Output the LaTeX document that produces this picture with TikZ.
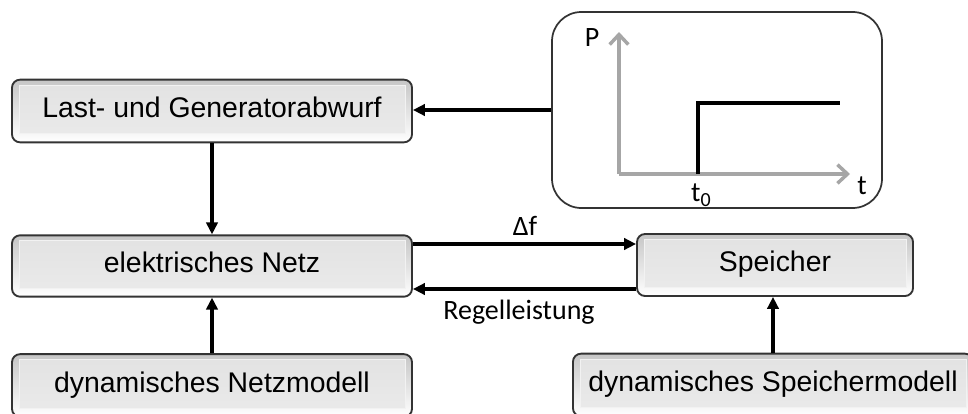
\documentclass[tikz,border=0pt]{standalone}
\usepackage{fontspec}
\setmainfont{Liberation Sans}
\newfontfamily\labfont{Carlito}
\usetikzlibrary{arrows.meta,calc}

\definecolor{btnedge}{HTML}{333333}
\definecolor{btnface}{HTML}{E2E2E2}
\definecolor{btntop}{HTML}{C6C6C6}
\definecolor{axisgray}{HTML}{A6A6A6}

\tikzset{
  btn/.style={draw=btnedge, line width=1.4pt, rounded corners=6pt,
    minimum width=300pt, minimum height=47pt, inner sep=0pt,
    text height=15pt, text depth=5pt,
    top color=btntop, bottom color=white,
    font=\fontsize{21.3}{25}\selectfont,
    path picture={
      \fill[sharp corners, top color=btnface, bottom color=btnface!70!white]
        ([xshift=5.5pt,yshift=-4pt]path picture bounding box.north west)
        rectangle ([xshift=-5pt,yshift=6.5pt]path picture bounding box.south east);
      \draw[white!55!btnface, line width=0.6pt, sharp corners]
        ([xshift=5.5pt,yshift=-4pt]path picture bounding box.north west)
        rectangle ([xshift=-5pt,yshift=6.5pt]path picture bounding box.south east);
    }},
  plotframe/.style={draw=btnedge, line width=1.3pt, rounded corners=22pt,
    minimum width=247.5pt, minimum height=147pt, inner sep=0pt},
  flow/.style={line width=2.5pt, -{Triangle[length=9pt,width=8.5pt]}},
  axis/.style={draw=axisgray, line width=2.6pt,
    -{Straight Barb[length=7.5pt,width=14pt,line width=2.6pt]}},
  lab/.style={font=\labfont\fontsize{21}{24}\selectfont, inner sep=0pt},
}

\begin{document}
\begin{tikzpicture}[x=0.75pt, y=-0.75pt]
  \useasboundingbox (0,0) rectangle (968,414);
  \clip (0,0) rectangle (968,414);

  % blocks
  \node[btn] (abw) at (212,111) {Last- und Generatorabwurf};
  \node[btn, minimum height=46pt] (netz) at (212,266) {elektrisches Netz};
  \node[btn, minimum width=207pt, minimum height=46.5pt] (sp) at (775,265) {Speicher};
  \node[btn] (nm) at (212,385.5) {dynamisches Netzmodell};
  \node[btn] (sm) at (773,385) {dynamisches Speichermodell};

  % step signal inset
  \node[plotframe] (plot) at (717,110) {};
  \coordinate (o) at (619,174);
  \coordinate (ytip) at (619,32);
  \coordinate (xtip) at (850,174);
  \coordinate (s0) at (698,174);
  \coordinate (s1) at (698,103);
  \coordinate (s2) at (840,103);
  \draw[axis] (o) -- (ytip);
  \draw[axis] (o) -- (xtip);
  \draw[line width=2.4pt, miter limit=10] (s0) -- (s1) -- (s2);
  \node[lab] (plab) at (592,38) {P};
  \node[lab] (tlab) at (862,186) {t};
  \node[lab] (t0lab) at (701,195) {t\raisebox{-4pt}{\fontsize{15}{15}\selectfont 0}};

  % signal flow
  \draw[flow] (plot.west) -- (plot.west -| abw.east);
  \draw[flow] (abw.south) -- (netz.north);
  \draw[flow] (nm.north) -- (netz.south);
  \draw[flow] (sm.north) -- (sm.north |- sp.south);
  \draw[flow] ([yshift=16.5pt]netz.east) -- ([yshift=16.5pt]netz.east -| sp.west);
  \draw[flow] ([yshift=-18pt]sp.west) -- ([yshift=-18pt]sp.west -| netz.east);
  \node[lab] (df) at (525,226) {Δf};
  \node[lab] (rl) at (519,312) {Regelleistung};
\end{tikzpicture}
\end{document}
